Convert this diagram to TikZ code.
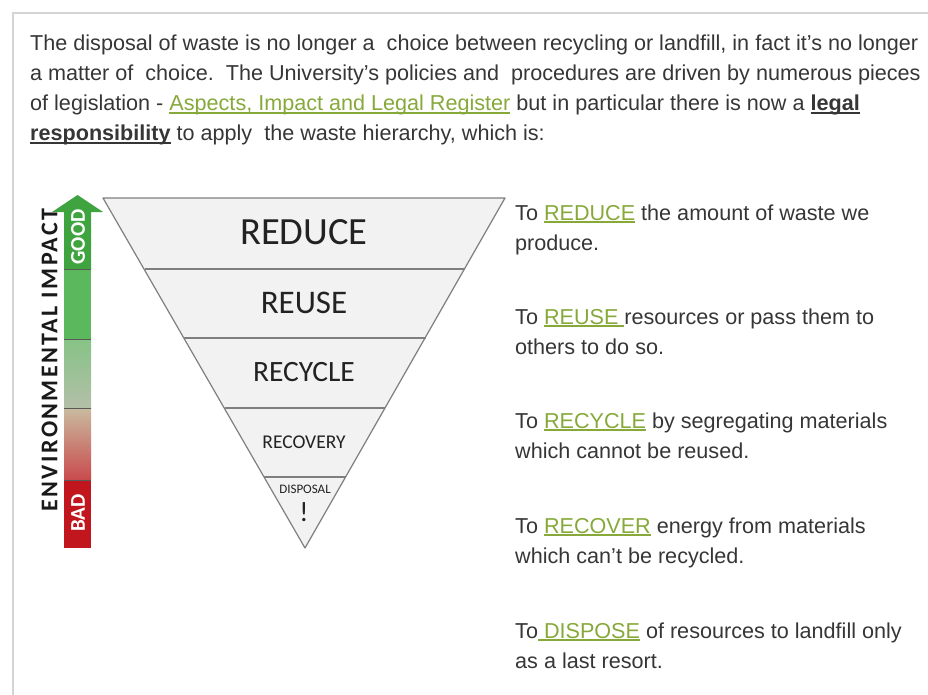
\documentclass[tikz,border=0pt]{standalone}
\usepackage{fontspec}
\setmainfont{Liberation Sans}
\newfontfamily\calib{Carlito}
\newfontfamily\calibsp[LetterSpace=10]{Carlito}
\definecolor{bodytxt}{HTML}{363636}
\definecolor{linkgreen}{HTML}{86A93A}
\definecolor{tribg}{HTML}{F2F2F2}
\definecolor{triline}{HTML}{7F7F7F}
\definecolor{tritxt}{HTML}{222222}
\definecolor{gA}{HTML}{3FA33F}
\definecolor{gB}{HTML}{5CB85C}
\definecolor{gC}{HTML}{86C386}
\definecolor{gD}{HTML}{B3BFA8}
\definecolor{rA}{HTML}{C9BBA0}
\definecolor{rB}{HTML}{C94A4C}
\definecolor{rC}{HTML}{C1161D}
\definecolor{framegray}{HTML}{D4D4D4}
\newcommand\myul[2][bodytxt]{\setbox0\hbox{#2}\rlap{\textcolor{#1}{\rule[-3pt]{\wd0}{1.6pt}}}\box0}
\newcommand\grn[1]{\textcolor{linkgreen}{\myul[linkgreen]{#1}}}
\begin{document}
\begin{tikzpicture}[x=1pt,y=-1pt,
  para/.style={anchor=base west,inner sep=0pt,text=bodytxt,font=\fontsize{21.6}{26}\selectfont\frenchspacing},
  trilabel/.style={inner sep=0pt,text=tritxt},
  barlabel/.style={inner sep=0pt,rotate=90,text=white,font=\calib\bfseries\fontsize{21}{24}\selectfont},
  divider/.style={draw=black!65,line width=0.9pt}]
\useasboundingbox (0,0) rectangle (928,695);
% frame
\draw[framegray,line width=1.5pt] (928,13) -- (13,13) -- (13,695);
% paragraph
\node[para] (p1) at (30,51) {The disposal of waste is no longer a\ \ choice between recycling or landfill, in fact it’s no longer};
\node[para] (p2) at (30,81) {a matter of\ \ choice.\ \ The University’s policies and\ \ procedures are driven by numerous pieces};
\node[para] (p3) at (30,111) {of legislation - \grn{Aspects, Impact and Legal Register} but in particular there is now a \textbf{\myul{legal}}};
\node[para] (p4) at (30,141) {\textbf{\myul{responsibility}} to apply\ \ the waste hierarchy, which is:};
% triangle
\filldraw[fill=tribg,draw=triline,line width=1.2pt,line join=round] (103,198) -- (505,198) -- (305,548) -- cycle;
\draw[triline,line width=1.2pt] (144.8,269) -- (465.2,269);
\draw[triline,line width=1.2pt] (184.4,338) -- (425.6,338);
\draw[triline,line width=1.2pt] (224.6,408) -- (385.4,408);
\draw[triline,line width=1.2pt] (264.2,477) -- (345.8,477);
\node[trilabel,font=\calib\fontsize{38.5}{40}\selectfont] (reduce) at (304,232) {REDUCE};
\node[trilabel,font=\calib\fontsize{33}{35}\selectfont] (reuse) at (304,303) {REUSE};
\node[trilabel,font=\calib\fontsize{29.5}{31}\selectfont] (recycle) at (304,372) {RECYCLE};
\node[trilabel,font=\calib\fontsize{19.5}{21}\selectfont] (recovery) at (304,442) {RECOVERY};
\node[trilabel,font=\calib\fontsize{13}{14}\selectfont] (disposal) at (305,489) {DISPOSAL};
\node[trilabel,font=\calib\fontsize{28}{30}\selectfont] (excl) at (304,512) {!};
% impact bar
\fill[gA] (64,269) -- (64,212) -- (52,212) -- (77.5,195) -- (103,212) -- (91,212) -- (91,269) -- cycle;
\fill[gB] (64,269) rectangle (91,339);
\shade[top color=gC,bottom color=gD] (64,339) rectangle (91,408);
\shade[top color=rA,bottom color=rB] (64,408) rectangle (91,480);
\fill[rC] (64,480) rectangle (91,548);
\draw[divider] (64,269) -- (91,269);
\draw[divider] (64,339) -- (91,339);
\draw[divider] (64,408) -- (91,408);
\draw[divider] (64,480) -- (91,480);
\node[barlabel] (good) at (78,237) {GOOD};
\node[barlabel] (bad) at (78,513) {BAD};
\node[inner sep=0pt,rotate=90,text=black!90,font=\calibsp\bfseries\fontsize{24}{26}\selectfont] (envimp) at (49.5,360) {ENVIRONMENTAL IMPACT};
% right texts
\node[para] (t1a) at (515,220) {To \grn{REDUCE} the amount of waste we};
\node[para] (t1b) at (515,250) {produce.};
\node[para] (t2a) at (515,324) {To \grn{REUSE\ }resources or pass them to};
\node[para] (t2b) at (515,354) {others to do so.};
\node[para] (t3a) at (515,428) {To \grn{RECYCLE} by segregating materials};
\node[para] (t3b) at (515,458) {which cannot be reused.};
\node[para] (t4a) at (515,533) {To \grn{RECOVER} energy from materials};
\node[para] (t4b) at (515,563) {which can’t be recycled.};
\node[para] (t5a) at (515,638) {To\grn{\ DISPOSE} of resources to landfill only};
\node[para] (t5b) at (515,668) {as a last resort.};
\end{tikzpicture}
\end{document}
